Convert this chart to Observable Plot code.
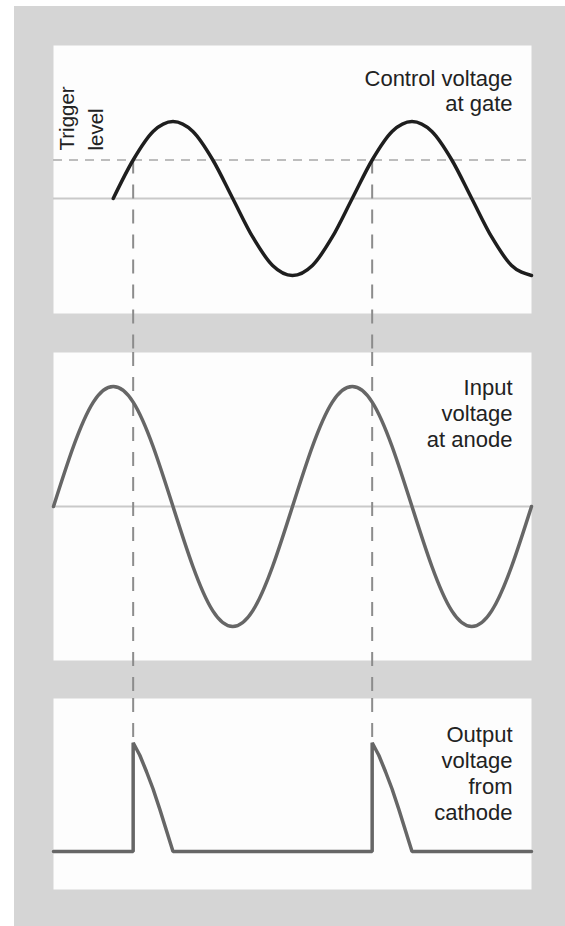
<!DOCTYPE html>
<html>
<head>
<meta charset="utf-8">
<script src="https://cdn.jsdelivr.net/npm/d3@7"></script>
<script src="https://cdn.jsdelivr.net/npm/@observablehq/plot@0.6"></script>
<style>
  html, body { margin: 0; padding: 0; background: #ffffff; }
  #wrap { position: relative; width: 565px; height: 926px; overflow: hidden; background: #ffffff; }
  #bg { position: absolute; left: 14px; top: 6px; width: 551px; height: 920px; background: #d5d5d5; }
  .panel { position: absolute; left: 0; }
  .panel svg { overflow: visible; display: block; }
</style>
</head>
<body>
<div id="wrap">
  <div id="bg"></div>
  <div class="panel" id="p1" style="top:45px"></div>
  <div class="panel" id="p2" style="top:352px"></div>
  <div class="panel" id="p3" style="top:698px"></div>
</div>
<script>
// ---- data (phase in degrees) ----
const gateTimes = [90,120,150,180,210,240,270,300,330,360,390,420,450,480,510,540,570,600,630,660,690,720];
const gateValues = [0,0.5,0.87,1,0.87,0.5,0,-0.5,-0.87,-1,-0.87,-0.5,0,0.5,0.87,1,0.87,0.5,0,-0.5,-0.87,-1];

const inputTimes = [0,30,60,90,120,150,180,210,240,270,300,330,360,390,420,450,480,510,540,570,600,630,660,690,720];
const inputValues = [0,0.5,0.87,1,0.87,0.5,0,-0.5,-0.87,-1,-0.87,-0.5,0,0.5,0.87,1,0.87,0.5,0,-0.5,-0.87,-1,-0.87,-0.5,0];

const outputTimes = [0,120,120,130,140,150,160,170,180,480,480,490,500,510,520,530,540,720];
const outputValues = [0,0,0.87,0.77,0.64,0.5,0.34,0.17,0,0,0.87,0.77,0.64,0.5,0.34,0.17,0,0];

const triggerLevel = 0.5;
const triggerTimes = [120, 480];
const outputPeak = 0.87;

const labels = {
  gate: "Control voltage\nat gate",
  input: "Input\nvoltage\nat anode",
  output: "Output\nvoltage\nfrom\ncathode",
  trigger: "Trigger\nlevel"
};

// ---- styling ----
const FONT = "'Liberation Sans', Arial, sans-serif";
const PANEL = "#fdfdfd";
const xScale = {domain: [0, 720], axis: null};
const common = {width: 565, marginLeft: 53, marginRight: 34, marginTop: 0, style: {background: "transparent", fontFamily: FONT, overflow: "visible"}};
const dashV = {stroke: "#8c8c8c", strokeWidth: 2, strokeDasharray: "14,11"};

const gate = gateTimes.map((t, i) => ({t, v: gateValues[i]}));
const input = inputTimes.map((t, i) => ({t, v: inputValues[i]}));
const output = outputTimes.map((t, i) => ({t, v: outputValues[i]}));

// Panel 1: control voltage at gate
const y1dom = [-1.494, 1.987];
const p1 = Plot.plot({
  ...common,
  height: 268 + 39,
  marginBottom: 39,
  x: xScale,
  y: {domain: y1dom, axis: null},
  marks: [
    Plot.frame({fill: PANEL, stroke: "none"}),
    Plot.ruleY([0], {stroke: "#c9c9c9", strokeWidth: 2}),
    Plot.ruleY([triggerLevel], {stroke: "#bdbdbd", strokeWidth: 2, strokeDasharray: "9,7"}),
    Plot.ruleX(triggerTimes, {x: d => d, y1: triggerLevel, y2: y1dom[0], insetBottom: -39, ...dashV}),
    Plot.line(gate, {x: "t", y: "v", curve: "monotone-x", stroke: "#1e1e1e", strokeWidth: 3.5, strokeLinejoin: "round"}),
    Plot.text([labels.gate], {frameAnchor: "top-right", textAnchor: "end", lineAnchor: "top", dx: -19, dy: 22.5, fontSize: 22, lineHeight: 1.14, fill: "#222"}),
    Plot.text([labels.trigger], {frameAnchor: "top-left", textAnchor: "start", lineAnchor: "top", rotate: -90, dx: 0, dy: 105, fontSize: 20.5, lineHeight: 1.41, fill: "#222"})
  ]
});
document.getElementById("p1").appendChild(p1);

// Panel 2: input voltage at anode
const p2 = Plot.plot({
  ...common,
  height: 308 + 38,
  marginBottom: 38,
  x: xScale,
  y: {domain: [-1.283, 1.283], axis: null},
  marks: [
    Plot.frame({fill: PANEL, stroke: "none"}),
    Plot.ruleY([0], {stroke: "#c9c9c9", strokeWidth: 2}),
    Plot.ruleX(triggerTimes, {x: d => d, insetBottom: -38, ...dashV}),
    Plot.line(input, {x: "t", y: "v", curve: "natural", stroke: "#666666", strokeWidth: 3.5, strokeLinejoin: "round"}),
    Plot.text([labels.input], {frameAnchor: "top-right", textAnchor: "end", lineAnchor: "top", dx: -19, dy: 24, fontSize: 22, lineHeight: 1.18, fill: "#222"})
  ]
});
document.getElementById("p2").appendChild(p2);

// Panel 3: output voltage from cathode
const y3dom = [-0.304, 1.224];
const p3 = Plot.plot({
  ...common,
  height: 191,
  marginBottom: 0,
  x: xScale,
  y: {domain: y3dom, axis: null},
  marks: [
    Plot.frame({fill: PANEL, stroke: "none"}),
    Plot.ruleX(triggerTimes, {x: d => d, y1: y3dom[1], y2: outputPeak, ...dashV}),
    Plot.line(output, {x: "t", y: "v", curve: "linear", stroke: "#666666", strokeWidth: 3.5, strokeLinejoin: "miter"}),
    Plot.text([labels.output], {frameAnchor: "top-right", textAnchor: "end", lineAnchor: "top", dx: -19, dy: 25, fontSize: 22, lineHeight: 1.18, fill: "#222"})
  ]
});
document.getElementById("p3").appendChild(p3);
</script>
</body>
</html>
